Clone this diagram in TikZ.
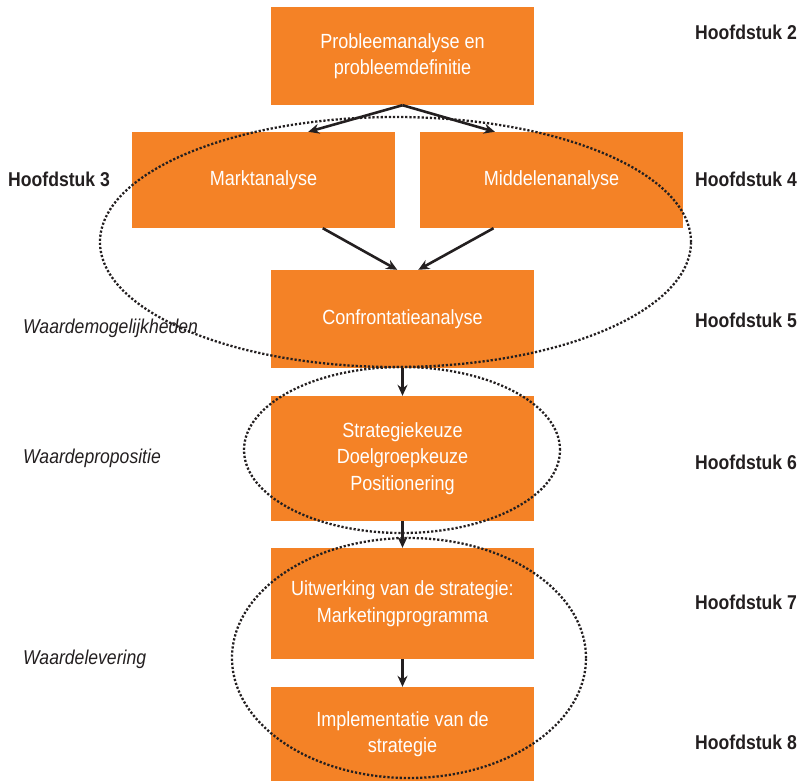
\documentclass[tikz,border=0pt]{standalone}
\usepackage{fontspec}
\setmainfont{Liberation Sans}[FakeStretch=0.88]
\usetikzlibrary{arrows.meta,calc}
\definecolor{oranje}{RGB}{244,130,38}
\definecolor{donker}{RGB}{35,31,32}
\begin{document}
\begin{tikzpicture}[x=1pt,y=-1pt,>={Stealth[length=11pt,width=10pt]},
	  box/.style={fill=oranje,text=white,align=center,inner sep=0pt,minimum width=263pt,font=\fontsize{20.5}{26.5}\selectfont},
	  hs/.style={anchor=base west,text=donker,inner sep=0pt,font=\fontsize{20}{24}\selectfont\bfseries},
	  ws/.style={anchor=base west,text=donker,inner sep=0pt,font=\fontsize{20}{24}\selectfont\itshape},
	  pijl/.style={->,draw=donker,line width=2.6pt},
	  stip/.style={draw=donker,line width=2.3pt,dash pattern=on 2.2pt off 1.9pt}]
	  \useasboundingbox (0,0) rectangle (803,780);
	  \node[box,minimum height=98pt] (b1) at (402.5,56) {Probleemanalyse en\\probleemdefinitie};
	  \node[box,minimum height=96pt] (b2) at (263.5,180) {Marktanalyse};
	  \node[box,minimum height=96pt] (b3) at (551.5,180) {Middelenanalyse};
	  \node[box,minimum height=98pt] (b4) at (402.5,319) {Confrontatieanalyse};
	  \node[box,minimum height=125pt] (b5) at (402.5,458.5) {Strategiekeuze\\Doelgroepkeuze\\Positionering};
	  \node[box,minimum height=111pt] (b6) at (402.5,603.5) {Uitwerking van de strategie:\\Marketingprogramma};
	  \node[box,minimum height=94pt] (b7) at (402.5,734) {Implementatie van de\\strategie};
	  \draw[pijl] (b1.south) -- ($(b2.north)!0.34!(b2.north east)$);
	  \draw[pijl] (b1.south) -- ($(b3.north)!0.43!(b3.north west)$);
	  \draw[pijl] ($(b2.south)!0.45!(b2.south east)$) -- ($(b4.north)!0.04!(b4.north west)$);
	  \draw[pijl] ($(b3.south)!0.44!(b3.south west)$) -- ($(b4.north)!0.12!(b4.north east)$);
	  \draw[pijl] (b4) -- (b5);
	  \draw[pijl] (b5) -- (b6);
	  \draw[pijl] (b6) -- (b7);
	  \draw[stip] (395.5,242) ellipse [x radius=295.5pt,y radius=125pt];
	  \draw[stip] (402,450) ellipse [x radius=158pt,y radius=83pt];
	  \draw[stip] (409,658) ellipse [x radius=177pt,y radius=120pt];
	  \node[hs] (h2) at (695,39) {Hoofdstuk 2};
	  \node[hs] (h3) at (8,186) {Hoofdstuk 3};
	  \node[hs] (h4) at (695,186) {Hoofdstuk 4};
	  \node[hs] (h5) at (695,327) {Hoofdstuk 5};
	  \node[hs] (h6) at (695,469) {Hoofdstuk 6};
	  \node[hs] (h7) at (695,609) {Hoofdstuk 7};
	  \node[hs] (h8) at (695,749) {Hoofdstuk 8};
	  \node[ws] (w1) at (23,333) {Waardemogelijkheden};
	  \node[ws] (w2) at (23,463) {Waardepropositie};
	  \node[ws] (w3) at (23,664) {Waardelevering};
	\end{tikzpicture}
\end{document}
